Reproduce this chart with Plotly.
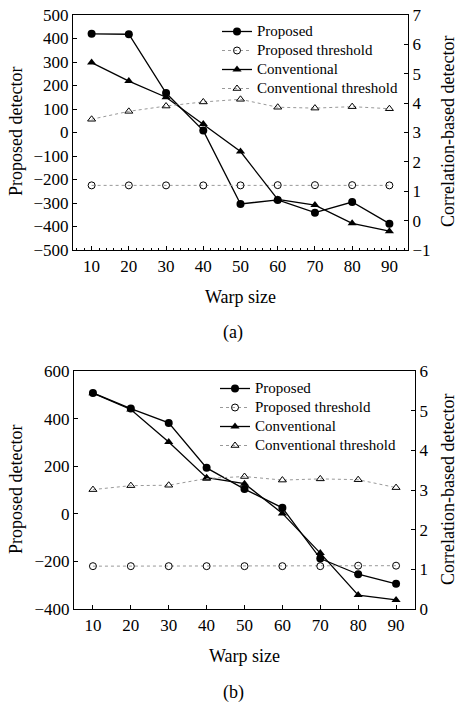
import plotly.graph_objects as go

warp = [10, 20, 30, 40, 50, 60, 70, 80, 90]

# Panel (a)
a_proposed = [420, 418, 168, 8, -304, -287, -341, -296, -388]
a_proposed_thr = [-225, -225, -225, -225, -225, -224, -224, -224, -225]
a_conv = [5.38, 4.75, 4.2, 3.29, 2.35, 0.72, 0.53, -0.09, -0.36]
a_conv_thr = [3.45, 3.72, 3.9, 4.04, 4.13, 3.86, 3.83, 3.88, 3.81]

# Panel (b)
b_proposed = [508, 442, 382, 193, 104, 25, -188, -254, -294]
b_proposed_thr = [-220, -220, -220, -220, -220, -220, -220, -218, -218]
b_conv = [5.44, 5.03, 4.21, 3.31, 3.16, 2.41, 1.41, 0.35, 0.23]
b_conv_thr = [3.01, 3.11, 3.12, 3.29, 3.34, 3.25, 3.28, 3.26, 3.06]

series_names = ["Proposed", "Proposed threshold", "Conventional", "Conventional threshold"]
a_left_ticks = [-500, -400, -300, -200, -100, 0, 100, 200, 300, 400, 500]
a_right_ticks = [-1, 0, 1, 2, 3, 4, 5, 6, 7]
b_left_ticks = [-400, -200, 0, 200, 400, 600]
b_right_ticks = [0, 1, 2, 3, 4, 5, 6]

FONT = "Liberation Serif"
W, H = 459, 705

fig = go.Figure()


def leg(name):
    return '<span style="font-size:15px">' + name + '</span>'


def add_panel(xa, yl, yr, legend, prop, prop_thr, conv, conv_thr):
    fig.add_trace(go.Scatter(
        x=warp, y=prop, name=leg(series_names[0]), mode="lines+markers",
        line=dict(color="black", width=1.3),
        marker=dict(symbol="circle", size=8, color="black"),
        xaxis=xa, yaxis=yl, legend=legend))
    fig.add_trace(go.Scatter(
        x=warp, y=prop_thr, name=leg(series_names[1]), mode="lines+markers",
        line=dict(color="#999999", width=1, dash="dot"),
        marker=dict(symbol="circle-open", size=7, color="black", line=dict(width=1)),
        xaxis=xa, yaxis=yl, legend=legend))
    fig.add_trace(go.Scatter(
        x=warp, y=conv, name=leg(series_names[2]), mode="lines+markers",
        line=dict(color="black", width=1.3),
        marker=dict(symbol="triangle-up", size=8, color="black"),
        xaxis=xa, yaxis=yr, legend=legend))
    fig.add_trace(go.Scatter(
        x=warp, y=conv_thr, name=leg(series_names[3]), mode="lines+markers",
        line=dict(color="#999999", width=1, dash="dot"),
        marker=dict(symbol="triangle-up-open", size=7, color="black", line=dict(width=1)),
        xaxis=xa, yaxis=yr, legend=legend))


add_panel("x", "y", "y2", "legend", a_proposed, a_proposed_thr, a_conv, a_conv_thr)
add_panel("x2", "y3", "y4", "legend2", b_proposed, b_proposed_thr, b_conv, b_conv_thr)

tickfont = dict(family=FONT, size=17, color="black")
common_axis = dict(showline=True, linecolor="black", linewidth=1.2, ticks="inside",
                   ticklen=4, tickcolor="black", showgrid=False, zeroline=False,
                   tickfont=tickfont, automargin=False)


def px_x(p):
    return p / W


def px_y(p):
    return 1 - p / H


top_x = [px_x(73), px_x(408)]
top_y = [px_y(250), px_y(15)]
bot_x = [px_x(74), px_x(415)]
bot_y = [px_y(609), px_y(371)]

legend_common = dict(xanchor="left", yanchor="top", bgcolor="rgba(0,0,0,0)",
                     font=dict(family=FONT, size=12, color="black"),
                     tracegroupgap=0, itemwidth=30)

fig.update_layout(
    width=W, height=H, autosize=False,
    margin=dict(l=0, r=0, t=0, b=0, pad=0),
    paper_bgcolor="white", plot_bgcolor="white",
    font=dict(family=FONT, color="black"),
    xaxis=dict(domain=top_x, anchor="y", range=[5, 95], tickvals=warp, mirror=True,
               minor=dict(dtick=2, tick0=0, ticks="inside", ticklen=2, tickcolor="black"),
               **common_axis),
    yaxis=dict(domain=top_y, anchor="x", range=[-500, 500], tickvals=a_left_ticks,
               **common_axis),
    yaxis2=dict(overlaying="y", side="right", anchor="x", range=[-1, 7],
                tickvals=a_right_ticks, **common_axis),
    xaxis2=dict(domain=bot_x, anchor="y3", range=[5, 95], tickvals=warp, mirror=True,
                **common_axis),
    yaxis3=dict(domain=bot_y, anchor="x2", range=[-400, 600], tickvals=b_left_ticks,
                **common_axis),
    yaxis4=dict(overlaying="y3", side="right", anchor="x2", range=[0, 6],
                tickvals=b_right_ticks, **common_axis),
    legend=dict(x=px_x(217), y=px_y(17), **legend_common),
    legend2=dict(x=px_x(215), y=px_y(374), **legend_common),
    showlegend=True,
)

title_font = dict(family=FONT, size=18, color="black")
annotations = [
    dict(text="Proposed detector", x=px_x(16), y=px_y(132), textangle=-90),
    dict(text="Correlation-based detector", x=px_x(448), y=px_y(132), textangle=-90),
    dict(text="Warp size", x=px_x(241), y=px_y(297)),
    dict(text="(a)", x=px_x(233), y=px_y(332)),
    dict(text="Proposed detector", x=px_x(16), y=px_y(490), textangle=-90),
    dict(text="Correlation-based detector", x=px_x(448), y=px_y(490), textangle=-90),
    dict(text="Warp size", x=px_x(245), y=px_y(656)),
    dict(text="(b)", x=px_x(234), y=px_y(692)),
]
for a in annotations:
    fig.add_annotation(xref="paper", yref="paper", showarrow=False,
                       xanchor="center", yanchor="middle", font=title_font, **a)

fig.write_html("out.html",
               config={"displayModeBar": False},
               post_script="document.body.style.margin='0';"
                           "document.body.style.overflow='hidden';")
